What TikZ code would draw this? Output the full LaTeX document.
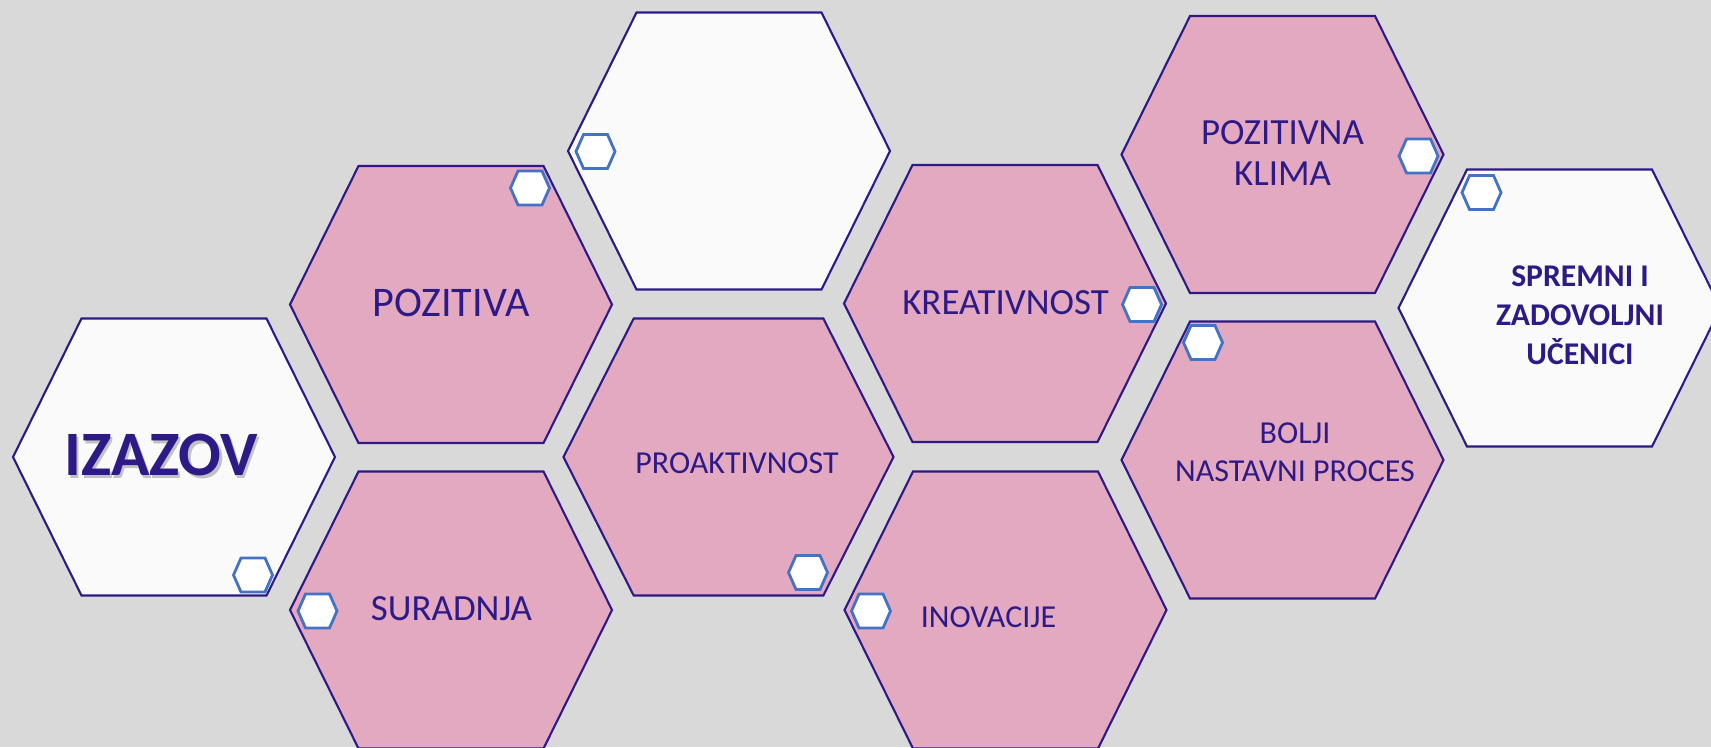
\documentclass[tikz,border=0pt]{standalone}
\usepackage{fontspec}
\setmainfont{Carlito}
\definecolor{cellline}{HTML}{2E1A87}
\definecolor{cellpink}{HTML}{E3A9C0}
\definecolor{cellwhite}{HTML}{FAFAFA}
\definecolor{backgray}{HTML}{D9D9D9}
\definecolor{minihexblue}{HTML}{4472C4}

\tikzset{
  hexcell/.pic = {\path[pic actions] (-161,0) -- (-92.5,-138.5) -- (92.5,-138.5) -- (161,0) -- (92.5,138.5) -- (-92.5,138.5) -- cycle;},
  minihex/.pic = {\path[pic actions] (-19.5,0) -- (-12,-17) -- (12,-17) -- (19.5,0) -- (12,17) -- (-12,17) -- cycle;},
  pinkcell/.style = {draw = cellline, line width = 0.6pt, fill = cellpink},
  whitecell/.style = {draw = cellline, line width = 0.6pt, fill = cellwhite},
  bluehex/.style = {draw = minihexblue, line width = 0.8pt, fill = white},
  celltext/.style = {text = cellline, align = center, inner sep = 0pt}
}

\begin{document}
\begin{tikzpicture}[x = 0.1mm, y = -0.1mm]

\useasboundingbox (0,0) rectangle (1711,747);
\clip (0,0) rectangle (1711,747);
\fill[backgray] (0,0) rectangle (1711,747);

% big cells, column by column
\pic[whitecell] at (174,457) {hexcell};
\pic[pinkcell] at (451,304.5) {hexcell};
\pic[pinkcell] at (451,610) {hexcell};
\pic[whitecell] at (729,151) {hexcell};
\pic[pinkcell, xscale = 1.025] at (728.5,457) {hexcell};
\pic[pinkcell] at (1005,303.5) {hexcell};
\pic[pinkcell] at (1005.5,610) {hexcell};
\pic[pinkcell] at (1282.5,154.5) {hexcell};
\pic[pinkcell] at (1282.5,460) {hexcell};
\pic[whitecell] at (1559.5,308) {hexcell};

% small markers on the cells
\foreach \mx/\my in {253/575, 530/188, 317.5/611, 595.5/151.5, 808/572.5,
                     1142/304.5, 871/611, 1418.5/156, 1203/342.5, 1481.5/192.5}
  \pic[bluehex] at (\mx,\my) {minihex};

% texts
\node[celltext, text = black!45, opacity = 0.5, font = {\fontsize{18}{20}\selectfont\bfseries}] (izazovshadow) at (163.5,457.5) {IZAZOV};
\node[celltext, font = {\fontsize{18}{20}\selectfont\bfseries}] (izazov) at (161,455) {IZAZOV};
\node[celltext, font = {\fontsize{12}{14}\selectfont}] (pozitiva) at (451,303) {POZITIVA};
\node[celltext, font = {\fontsize{10.5}{13}\selectfont}] (suradnja) at (451.5,609) {SURADNJA};
\node[celltext, font = {\fontsize{9.1}{11}\selectfont}] (proaktivnost) at (737,463) {PROAKTIVNOST};
\node[celltext, font = {\fontsize{10.5}{12}\selectfont}] (kreativnost) at (1005.5,303) {KREATIVNOST};
\node[celltext, font = {\fontsize{9.1}{11}\selectfont}] (inovacije) at (988.5,617) {INOVACIJE};
\node[celltext, font = {\fontsize{10.5}{11.4}\selectfont}] (klima) at (1282.5,153) {POZITIVNA\\KLIMA};
\node[celltext, font = {\fontsize{9.1}{10.8}\selectfont}] (proces) at (1295,452) {BOLJI\\NASTAVNI PROCES};
\node[celltext, font = {\fontsize{9}{11.1}\selectfont\bfseries}] (ucenici) at (1580,315) {SPREMNI I\\ZADOVOLJNI\\UČENICI};

\end{tikzpicture}
\end{document}
